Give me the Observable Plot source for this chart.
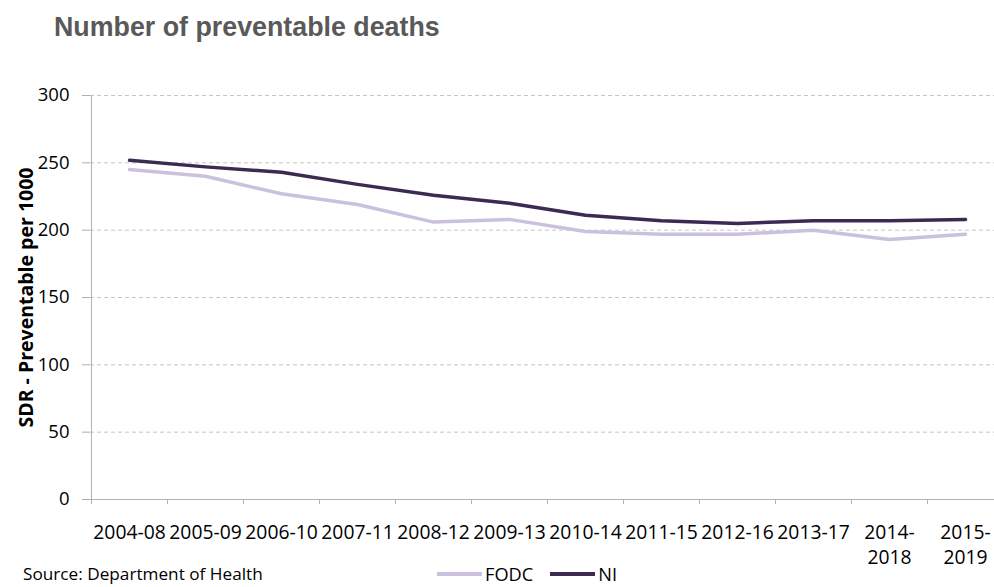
<!DOCTYPE html>
<html>
<head>
<meta charset="utf-8">
<script src="https://cdn.jsdelivr.net/npm/d3@7"></script>
<script src="https://cdn.jsdelivr.net/npm/@observablehq/plot@0.6"></script>
<style>
  html, body { margin: 0; padding: 0; background: #fff; overflow: hidden; }
  #wrap { position: relative; width: 994px; height: 587px; }
  #title { position: absolute; left: 54px; top: 13px; font: bold 26.8px/28px "Liberation Sans", Arial, sans-serif; color: #595959; white-space: nowrap; }
  #chart { position: absolute; left: 0; top: 50px; }
  #source { position: absolute; left: 23px; top: 564px; font: 17.2px/20px "Open Sans", sans-serif; color: #000; white-space: nowrap; }
  #legend { position: absolute; left: 437px; top: 564px; height: 20px; display: flex; align-items: center; font: 18.2px/20px "Open Sans", sans-serif; color: #000; }
  .sw { width: 45px; height: 3.5px; margin-right: 3px; }
  .item { display: flex; align-items: center; margin-right: 17px; white-space: nowrap; }
</style>
</head>
<body>
<div id="wrap">
  <div id="title">Number of preventable deaths</div>
  <div id="chart"></div>
  <div id="source">Source: Department of Health</div>
  <div id="legend"></div>
</div>
<script>
// Rolling five-year periods
const periods = ["2004-08", "2005-09", "2006-10", "2007-11", "2008-12", "2009-13",
                 "2010-14", "2011-15", "2012-16", "2013-17", "2014-2018", "2015-2019"];
// Standardised death rate, preventable, per 1000
const fodc = [245, 240, 227, 219, 206, 208, 199, 197, 197, 200, 193, 197];
const ni   = [252, 247, 243, 234, 226, 220, 211, 207, 205, 207, 207, 208];

const seriesNames  = ["FODC", "NI"];
const seriesColors = ["#cbc0de", "#3b2a52"];
const yTicks = [0, 50, 100, 150, 200, 250, 300];
const yLabel = "SDR - Preventable per 1000";

const rows = [
  ...periods.map((p, i) => ({period: p, series: "FODC", value: fodc[i]})),
  ...periods.map((p, i) => ({period: p, series: "NI", value: ni[i]}))
];

const xRange = [90, 1003];
const bw = (xRange[1] - xRange[0]) / periods.length;
const axisGrey = "#b0b0b0";

// Long labels wrap at the hyphen, short ones stay on one line
const fmt = d => d.length > 7 ? d.replace("-", "-\n") : d;

const chart = Plot.plot({
  width: 994,
  height: 520,
  marginLeft: 90,
  marginRight: 0,
  marginTop: 45,
  marginBottom: 71,
  style: {fontFamily: "'Open Sans', sans-serif", fontSize: "19.3px", color: "#000", background: "transparent"},
  x: {type: "band", domain: periods, range: xRange, padding: 0},
  y: {domain: [0, 300]},
  color: {domain: seriesNames, range: seriesColors},
  marks: [
    Plot.gridY(yTicks.filter(v => v > 0), {stroke: "#c4c4c4", strokeOpacity: 1, strokeDasharray: "4,3"}),
    Plot.ruleY([0], {stroke: axisGrey}),
    Plot.ruleX([periods[0]], {dx: -bw / 2, y1: 0, y2: 300, stroke: axisGrey}),
    Plot.axisY({ticks: yTicks, tickSize: 8, tickPadding: 13, stroke: axisGrey, strokeOpacity: 1, label: null, fontSize: 18.5}),
    Plot.axisX({tickSize: 5, tickFormat: () => "", dx: -bw / 2, stroke: axisGrey, strokeOpacity: 1, label: null}),
    Plot.axisX({tickSize: 0, tickPadding: 22, tickFormat: fmt, lineHeight: 1.3, label: null}),
    Plot.line(rows, {x: "period", y: "value", z: "series", stroke: "series", strokeWidth: 3.5}),
    Plot.text([yLabel], {frameAnchor: "left", rotate: -90, dx: -64, textAnchor: "middle", fontWeight: "bold", fontSize: 19.5})
  ]
});
document.getElementById("chart").appendChild(chart);

// Line-swatch legend
const legend = document.getElementById("legend");
seriesNames.forEach((name, i) => {
  const item = document.createElement("div");
  item.className = "item";
  const sw = document.createElement("div");
  sw.className = "sw";
  sw.style.background = seriesColors[i];
  const label = document.createElement("span");
  label.textContent = name;
  item.appendChild(sw);
  item.appendChild(label);
  legend.appendChild(item);
});
</script>
</body>
</html>
